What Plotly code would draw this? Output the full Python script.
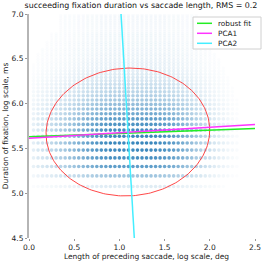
import numpy as np
import plotly.graph_objects as go

# ---- data ----
# discretised fixation-duration rows (log ms)
dur_rows = [5.075, 5.193, 5.298, 5.394, 5.481, 5.561, 5.635, 5.704, 5.768, 5.829,
            5.886, 5.940, 5.991, 6.040, 6.087, 6.131, 6.174, 6.215, 6.254, 6.292,
            6.328, 6.363, 6.397, 6.430, 6.461, 6.492, 6.522, 6.551, 6.579, 6.607,
            6.633, 6.659, 6.685, 6.709, 6.733, 6.757, 6.780, 6.802, 6.824, 6.846,
            6.867, 6.888, 6.908, 6.928, 6.947, 6.966, 6.985]
row_density = [0.15, 0.45, 0.75, 0.85, 0.90, 0.92, 0.92, 0.88, 0.82, 0.75,
               0.66, 0.58, 0.50, 0.43, 0.37, 0.32, 0.28, 0.24, 0.20, 0.17,
               0.15, 0.13, 0.11, 0.10, 0.09, 0.08, 0.07, 0.07, 0.06, 0.06,
               0.05, 0.05, 0.05, 0.04, 0.04, 0.04, 0.04, 0.03, 0.03, 0.03,
               0.03, 0.03, 0.03, 0.03, 0.03, 0.03, 0.03]
# saccade-length columns (log deg)
len_cols = [0.05, 0.10, 0.15, 0.20, 0.25, 0.30, 0.35, 0.40, 0.45, 0.50, 0.55,
            0.60, 0.65, 0.70, 0.75, 0.80, 0.85, 0.90, 0.95, 1.00, 1.05,
            1.10, 1.15, 1.20, 1.25, 1.30, 1.35, 1.40, 1.45, 1.50, 1.55,
            1.60, 1.65, 1.70, 1.75, 1.80, 1.85, 1.90, 1.95, 2.00, 2.05,
            2.10, 2.15, 2.20, 2.25, 2.30]
col_density = [0.14, 0.20, 0.24, 0.28, 0.33, 0.38, 0.43, 0.48, 0.54, 0.60, 0.66,
               0.72, 0.78, 0.84, 0.89, 0.93, 0.96, 1.00, 1.00, 1.00, 1.00,
               1.00, 1.00, 1.00, 1.00, 1.00, 1.00, 0.98, 0.95, 0.92, 0.88,
               0.83, 0.77, 0.70, 0.63, 0.55, 0.47, 0.40, 0.33, 0.27, 0.21,
               0.16, 0.12, 0.08, 0.05, 0.03]

robust_x = [0.0, 2.5]
robust_y = [5.630, 5.722]
pca1_x = [0.0, 2.5]
pca1_y = [5.614, 5.767]
pca2_x = [1.018, 1.165]
pca2_y = [7.0, 4.5]

ell_center = (1.094, 5.683)
ell_axes = (0.906, 0.713)
ell_slope = 0.061

x_ticks = [0.0, 0.5, 1.0, 1.5, 2.0, 2.5]
y_ticks = [4.5, 5.0, 5.5, 6.0, 6.5, 7.0]

legend_names = ["robust fit", "PCA1", "PCA2"]
legend_colors = ["#22ee22", "#ff33ff", "#44eeff"]

# ---- figure ----
FONT = "DejaVu Sans"
W, H = 266, 263
ML, MR, MT, MB = 29, 2, 14, 25
PW, PH = W - ML - MR, H - MT - MB


def px_x(p):
    return (p - ML) / PW


def px_y(p):
    return (H - MB - p) / PH


fig = go.Figure()

xs, ys, cs = [], [], []
for yv, rw in zip(dur_rows, row_density):
    for xv, cw in zip(len_cols, col_density):
        a = 0.95 * rw * cw
        if a < 0.012:
            continue
        xs.append(xv)
        ys.append(yv)
        cs.append(f"rgba(31,119,180,{a:.3f})")
fig.add_trace(go.Scatter(x=xs, y=ys, mode="markers",
                         marker=dict(size=3.6, color=cs, line=dict(width=0)),
                         showlegend=False, hoverinfo="skip"))

th = np.arctan(ell_slope)
t = np.linspace(0, 2 * np.pi, 240)
a, b = ell_axes
ex = ell_center[0] + a * np.cos(t) * np.cos(th) - b * np.sin(t) * np.sin(th)
ey = ell_center[1] + a * np.cos(t) * np.sin(th) + b * np.sin(t) * np.cos(th)
fig.add_trace(go.Scatter(x=ex, y=ey, mode="lines",
                         line=dict(color="rgba(255,40,40,0.85)", width=1),
                         showlegend=False, hoverinfo="skip"))

for lx, ly, nm, col in [(robust_x, robust_y, legend_names[0], legend_colors[0]),
                        (pca1_x, pca1_y, legend_names[1], legend_colors[1]),
                        (pca2_x, pca2_y, legend_names[2], legend_colors[2])]:
    fig.add_trace(go.Scatter(x=lx, y=ly, mode="lines", name=nm,
                             line=dict(color=col, width=1.5),
                             showlegend=False, hoverinfo="skip"))

# legend drawn as box + sample lines + real text
shapes = [dict(type="rect", xref="paper", yref="paper",
               x0=px_x(193), x1=px_x(261), y0=px_y(49), y1=px_y(17),
               line=dict(color="#d0d0d0", width=1), fillcolor="white", layer="above")]
annotations = []
for i, (nm, col) in enumerate(zip(legend_names, legend_colors)):
    yy = 23.3 + 10 * i
    shapes.append(dict(type="line", xref="paper", yref="paper",
                       x0=px_x(197), x1=px_x(212), y0=px_y(yy), y1=px_y(yy),
                       line=dict(color=col, width=1.5), layer="above"))
    annotations.append(dict(text=nm, xref="paper", yref="paper",
                            x=px_x(216), y=px_y(yy), xanchor="left", yanchor="middle",
                            showarrow=False, font=dict(family=FONT, size=7.3, color="#222222")))

fig.update_layout(
    width=W, height=H,
    margin=dict(l=ML, r=MR, t=MT, b=MB, autoexpand=False),
    paper_bgcolor="white", plot_bgcolor="white",
    font=dict(family=FONT, size=7.5, color="#222222"),
    title=dict(text="succeeding fixation duration vs saccade length, RMS = 0.2",
               x=0.53, xanchor="center", y=0.99, yanchor="top",
               font=dict(family=FONT, size=7.9, color="#111111")),
    shapes=shapes, annotations=annotations,
    showlegend=False,
)
fig.update_xaxes(range=[0, 2.5 * PW / 226.0], tickvals=x_ticks,
                 ticktext=[f"{v:.1f}" for v in x_ticks],
                 showgrid=False, zeroline=False, showline=False, automargin=False,
                 ticks="outside", ticklen=2, tickcolor="#999999",
                 title=dict(text="Length of preceding saccade, log scale, deg",
                            font=dict(size=7.5), standoff=2))
fig.update_yaxes(range=[4.5, 7.0], tickvals=y_ticks,
                 ticktext=[f"{v:.1f}" for v in y_ticks],
                 showgrid=False, zeroline=False, showline=True, automargin=False,
                 linecolor="#b5b5b5", linewidth=2,
                 ticks="outside", ticklen=2, tickcolor="#999999",
                 title=dict(text="Duration of fixation, log scale, ms",
                            font=dict(size=7.5), standoff=2))

fig.write_html("out.html",
               config={"displayModeBar": False, "staticPlot": True},
               post_script="document.body.style.margin='0';document.body.style.padding='0';")
